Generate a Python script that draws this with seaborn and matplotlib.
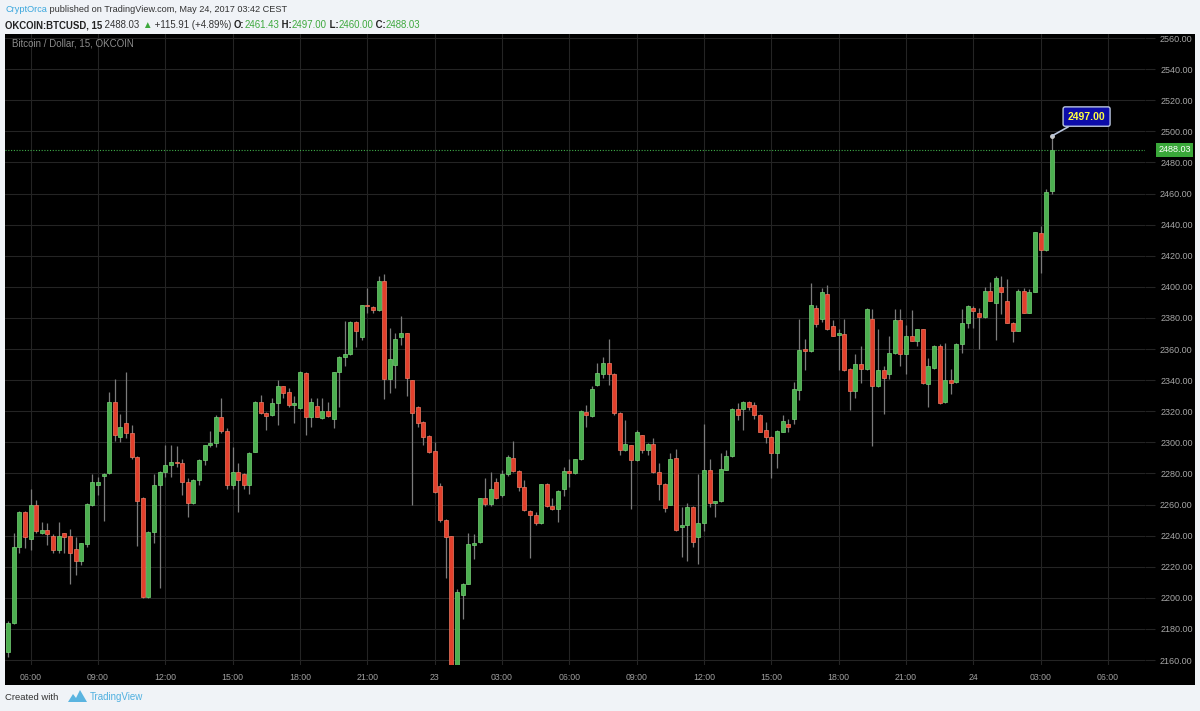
import matplotlib
matplotlib.use("Agg")
import matplotlib.pyplot as plt
import matplotlib.transforms as mtransforms
from matplotlib.patches import Rectangle, Polygon
import seaborn as sns
import numpy as np
import pandas as pd

# 15 minute candles, OKCOIN BTC/USD, 22 May 05:00 -> 24 May 03:30 (CEST)
start = "2017-05-22 05:00"

opens = [2165, 2184, 2233, 2255, 2238, 2260, 2242, 2243.5, 2240, 2231,
         2241.5, 2240, 2231.5, 2224, 2234.5, 2259.5, 2272.5, 2278.5, 2280, 2326,
         2303.5, 2312.5, 2306, 2290.5, 2264, 2200.5, 2242.5, 2272.5, 2281, 2285.5,
         2287.5, 2287, 2274.5, 2261, 2275.5, 2288.5, 2298.3, 2299.4, 2316.6, 2307.5,
         2272.5, 2281, 2279.6, 2272.5, 2294, 2326.2, 2318.7, 2317.6, 2325, 2336,
         2332.5, 2324, 2322, 2344.5, 2316.6, 2323.4, 2315.5, 2320.4, 2314.8, 2345,
         2354.8, 2356.8, 2377.2, 2367.7, 2388.4, 2387, 2385.4, 2403.6, 2340.6, 2350,
         2367.7, 2370, 2339.8, 2323, 2313.3, 2304, 2294.6, 2271.8, 2250.3, 2239.6,
         2153, 2202, 2209.2, 2234.2, 2236, 2264, 2260.2, 2274.6, 2266, 2279.6,
         2289.7, 2281.7, 2271, 2255.9, 2253.1, 2248.2, 2273.1, 2258.9, 2257.4, 2270.3,
         2281.7, 2280, 2289, 2319.8, 2317, 2336.8, 2343.9, 2351, 2343.9, 2318.9,
         2294.8, 2298, 2288.8, 2304.5, 2294.8, 2299.1, 2280.9, 2273.3, 2260, 2290.1,
         2245.4, 2247.1, 2258.3, 2238.9, 2248.2, 2282.4, 2261, 2262, 2282.4, 2291,
         2321.7, 2321.7, 2326, 2323.9, 2317.6, 2308, 2303.7, 2292.9, 2306.9, 2311.8,
         2314.8, 2333.8, 2360, 2358.5, 2386.5, 2379, 2395.7, 2374.6, 2369.2, 2369.9,
         2347.1, 2333.3, 2350.3, 2347.1, 2379.4, 2336.3, 2346.7, 2344.1, 2357.4, 2378.9,
         2357, 2368.4, 2365.4, 2372.7, 2337.8, 2347.5, 2362, 2326, 2340, 2338.9,
         2363.2, 2377, 2386.2, 2383.4, 2380.4, 2397.6, 2389.5, 2400.2, 2391.2, 2377,
         2371.8, 2397.6, 2383.4, 2397, 2434.6, 2423.4, 2461.43]

highs = [2185, 2242, 2256, 2256, 2270, 2263, 2249, 2248, 2241, 2249,
         2242, 2244, 2239, 2235.5, 2261, 2279.5, 2278, 2280, 2332.5, 2340.5,
         2318, 2345.5, 2311, 2291.5, 2265, 2243, 2279.5, 2281.5, 2298, 2298,
         2297.5, 2289, 2277, 2276.5, 2289.5, 2298.5, 2307.5, 2317.6, 2328.4, 2309,
         2297, 2287, 2280.2, 2293.5, 2326.5, 2330.5, 2319.2, 2328.4, 2340, 2336.5,
         2335, 2329.5, 2346, 2345, 2328.4, 2328.4, 2328.4, 2326, 2345.5, 2355.3,
         2377.8, 2378.3, 2378, 2388.6, 2399.3, 2387.5, 2406.9, 2408, 2373.5, 2370,
         2381.5, 2370.5, 2340.3, 2323.5, 2313.8, 2304.5, 2300.4, 2274, 2250.8, 2240,
         2205.6, 2209.5, 2241.5, 2241, 2264.5, 2276.8, 2281, 2276.8, 2282, 2291.8,
         2301, 2282.2, 2275.7, 2256.4, 2255.3, 2273.5, 2273.6, 2264.5, 2269.3, 2284.3,
         2289, 2289.5, 2320.8, 2324, 2336, 2351, 2354.8, 2366.5, 2344.4, 2319.4,
         2314.2, 2298.5, 2307.7, 2305, 2299.6, 2303, 2286.7, 2273.8, 2293.1, 2295.9,
         2258.3, 2260.9, 2258.8, 2279.4, 2312, 2289.5, 2262.5, 2293.1, 2295.3, 2322.2,
         2325, 2326.5, 2326.5, 2326, 2318.1, 2313.3, 2304.2, 2307.8, 2317.6, 2314.8,
         2338.5, 2379.4, 2366.5, 2402.6, 2388, 2399.4, 2401.5, 2378.5, 2372.9, 2379.4,
         2347.6, 2357, 2361.7, 2386.3, 2385.8, 2372.9, 2348.8, 2368.6, 2385.8, 2385.8,
         2375.7, 2385.2, 2373.2, 2373.2, 2354, 2362.5, 2363.2, 2363.7, 2346.9, 2363.7,
         2385.6, 2388.2, 2387.7, 2386.2, 2400.2, 2402.8, 2407.1, 2406.7, 2405, 2377.5,
         2398.5, 2399.1, 2398.5, 2435.5, 2439.4, 2463, 2497]

lows = [2162, 2183, 2229, 2232, 2231, 2242, 2241, 2234, 2229, 2229,
        2229, 2209, 2215, 2221, 2232.5, 2259, 2266, 2249.5, 2279.5, 2301,
        2300, 2302.5, 2289, 2233.5, 2200, 2200, 2235, 2206, 2278, 2278,
        2284, 2266, 2252, 2260.5, 2272.5, 2285.5, 2297, 2297, 2306.2, 2270.3,
        2270.3, 2255.3, 2270.3, 2267, 2293.5, 2318.2, 2308, 2317, 2311.2, 2328.4,
        2323, 2312.7, 2321.5, 2304.7, 2310, 2316, 2315, 2316.2, 2309, 2323,
        2348.8, 2356.3, 2361.3, 2366, 2383, 2383, 2384.3, 2327.7, 2331.6, 2334.8,
        2362.8, 2330, 2259.6, 2310, 2298, 2293, 2267.5, 2248.8, 2213, 2152,
        2152, 2186.2, 2208.8, 2225, 2235.5, 2259, 2259, 2263.5, 2265, 2278.3,
        2281.2, 2268.8, 2255.8, 2225.8, 2246.7, 2247.7, 2258.4, 2256.8, 2248.8, 2265.4,
        2271.4, 2279.5, 2288.5, 2309.7, 2316.1, 2336.3, 2341.3, 2337, 2317.4, 2291.6,
        2294.4, 2257.2, 2288.3, 2293.1, 2291.6, 2280.4, 2262.6, 2255, 2259.5, 2243.2,
        2226, 2223.4, 2232.9, 2221.7, 2243.2, 2258.3, 2251.8, 2261.5, 2282, 2290.5,
        2314.2, 2308.2, 2320.6, 2315.3, 2306.4, 2299.8, 2276.8, 2283.2, 2306.4, 2306.9,
        2311.8, 2327.3, 2346.2, 2358, 2374.2, 2377.2, 2372, 2368.2, 2346.2, 2345.6,
        2320.9, 2328.4, 2338, 2346.6, 2297.6, 2335.5, 2318.3, 2340.6, 2356.9, 2348.8,
        2344.1, 2364.9, 2362, 2337.8, 2322.4, 2347, 2324.5, 2325.5, 2331.4, 2338.4,
        2357.6, 2373.3, 2373.3, 2359.8, 2379.9, 2390.7, 2366, 2382.6, 2376.5, 2364.7,
        2371.3, 2382.9, 2382.9, 2396.5, 2408.8, 2422.9, 2460]

closes = [2184, 2233, 2255, 2239, 2260, 2243, 2243.5, 2241, 2231, 2240,
          2239, 2229, 2224, 2235, 2260.5, 2274.5, 2274.5, 2279.5, 2326, 2304.5,
          2310, 2306, 2290.5, 2262.5, 2200.5, 2242.5, 2272.5, 2281, 2285.5, 2287.5,
          2286.5, 2274.5, 2261, 2276, 2288.5, 2298.3, 2299.8, 2316.6, 2307.5, 2272.5,
          2281, 2276, 2272.5, 2293, 2326.2, 2318.7, 2317, 2325, 2336, 2332,
          2324, 2325.6, 2345.4, 2316.3, 2326.2, 2316.6, 2320.4, 2317, 2345, 2354.8,
          2356.8, 2377.2, 2371.4, 2388, 2387.5, 2385.4, 2403.6, 2340.6, 2353.5, 2366.5,
          2370, 2341.3, 2319, 2312.7, 2303.7, 2294, 2268, 2250.3, 2239, 2153,
          2204, 2209.2, 2234.6, 2235.5, 2263.9, 2260.2, 2269.7, 2264, 2279.6, 2290.8,
          2281.7, 2271, 2256.3, 2253.1, 2248.2, 2273.1, 2258.9, 2257.4, 2268.8, 2281.7,
          2280, 2289, 2320.4, 2317.6, 2334.2, 2344.5, 2351, 2344, 2318.9, 2294.8,
          2298.7, 2288.8, 2306.7, 2294.8, 2299.1, 2280.9, 2273.3, 2257.8, 2289.5, 2243.7,
          2247.1, 2258.3, 2235.7, 2248.2, 2282.4, 2260.9, 2262, 2283, 2291, 2321.7,
          2317.4, 2326, 2322.4, 2317.4, 2306.9, 2303.2, 2292.9, 2307.5, 2313.8, 2309.7,
          2334.2, 2359.6, 2358.5, 2388, 2376.3, 2396.6, 2372.9, 2368.6, 2370.3, 2346.7,
          2333.3, 2350.3, 2347.1, 2385.8, 2336.3, 2346.7, 2341.3, 2357.4, 2378.9, 2357,
          2368.6, 2365.4, 2372.7, 2338.3, 2349, 2362, 2325.4, 2340, 2338.3, 2363.2,
          2377, 2387.7, 2384.7, 2380.4, 2397.6, 2391.2, 2405.6, 2397, 2377, 2371.8,
          2397.6, 2383.4, 2397, 2435, 2423.4, 2460.9, 2488.03]

last_price = 2488.03
high_label = "2497.00"
y_ticks = list(range(2160, 2561, 20))

W, H = 1200, 711
GREEN = "#4caf50"
GREEN_EDGE = "#76d376"
RED = "#e2402c"
RED_EDGE = "#f27a62"
WICK = "#7b7b7b"
GRID = "#242424"
HEAD_GREEN = "#3da83d"

sns.set_style("dark")
plt.rcParams["font.family"] = ["Liberation Sans", "DejaVu Sans"]

df = pd.DataFrame({"open": opens, "high": highs, "low": lows, "close": closes})
df["time"] = pd.date_range(start, periods=len(df), freq="15min")
df["idx"] = np.arange(len(df))
up = df["close"] >= df["open"]
body_lo = np.minimum(df["open"], df["close"])
body_h = np.maximum(np.abs(df["close"] - df["open"]), 0.9)

fig = plt.figure(figsize=(W / 100, H / 100), dpi=100)
fig.patch.set_facecolor("#f0f3f7")


def px(x, y):
    return x / W, 1 - y / H


# black chart panel incl. price and time scales (behind the axes)
fig.patches.append(Rectangle(px(5, 685), 1190 / W, (685 - 34) / H,
                             transform=fig.transFigure, facecolor="black",
                             edgecolor="none", zorder=-5))

ax = fig.add_axes([5 / W, 1 - 665 / H, 1140 / W, (665 - 34) / H])
ax.set_zorder(1)
ax.set_facecolor("black")
ax.set_xlim(-0.57, 202.6)
ax.set_ylim(2156.8, 2562.6)
sns.despine(ax=ax, left=True, bottom=True, top=True, right=True)

# candles
ax.vlines(df["idx"], df["low"], df["high"], color=WICK, lw=0.9, zorder=2)
ax.bar(df["idx"], body_h, bottom=body_lo, width=0.72,
       color=np.where(up, GREEN, RED), edgecolor=np.where(up, GREEN_EDGE, RED_EDGE),
       linewidth=0.5, zorder=3)

# grid and scales
tick_times = pd.date_range("2017-05-22 06:00", "2017-05-24 06:00", freq="3h")
t0 = df["time"].iloc[0]
tick_pos = [(t - t0) / pd.Timedelta("15min") for t in tick_times]
tick_lab = [str(t.day) if t.hour == 0 else t.strftime("%H:%M") for t in tick_times]
ax.set_xticks(tick_pos)
ax.set_xticklabels(tick_lab)
ax.set_yticks(y_ticks)
ax.set_yticklabels([f"{v:.2f}" for v in y_ticks])
ax.yaxis.tick_right()
ax.grid(True, color=GRID, lw=0.8, zorder=0)
ax.set_axisbelow(True)
# right-aligned price labels ending just inside the panel edge
ax.tick_params(axis="y", length=7, color=GRID, pad=27.3, labelsize=6.5,
               labelcolor="#a6a6a6")
for lab in ax.get_yticklabels():
    lab.set_horizontalalignment("right")
ax.tick_params(axis="x", length=0, pad=6, labelsize=6.3, labelcolor="#a0a0a0")

# last price line and label
ax.axhline(last_price, color="#3fae49", ls=(0, (1, 1.5)), lw=0.8, zorder=4)
trans = mtransforms.blended_transform_factory(ax.transAxes, ax.transData)
ax.text(1.0263, last_price, f"{last_price:.2f}", transform=trans, ha="center",
        va="center", fontsize=6.5, color="white", clip_on=False, zorder=6,
        bbox=dict(boxstyle="square,pad=0.25", fc="#3aa83a", ec="none"))

# high annotation
last = df.iloc[-1]
ax.plot(last["idx"], last["high"], "o", ms=2.5, color="#c8c8c8", zorder=5)
ax.annotate(high_label, xy=(last["idx"], last["high"]), xytext=(25, 14),
            textcoords="offset points", ha="center", va="center", fontsize=7.5,
            fontweight="bold", color="#ffff40", zorder=6,
            bbox=dict(boxstyle="round,pad=0.45,rounding_size=0.2", fc="#0c0ca8",
                      ec="#b8c4dc", lw=1),
            arrowprops=dict(arrowstyle="-", color="#b8c4dc", lw=1.2,
                            shrinkA=0, shrinkB=0))

ax.text(7 / 1140, 1 - 10 / 631, "Bitcoin / Dollar, 15, OKCOIN", transform=ax.transAxes,
        ha="left", va="center", fontsize=7, color="#8c8c8c")

# header text, drawn piece by piece
renderer = fig.canvas.get_renderer()


def write_line(x, y, pieces, size):
    fx, fy = px(x, y)
    for s, color, weight in pieces:
        t = fig.text(fx, fy, s, color=color, fontsize=size, fontweight=weight,
                     ha="left", va="center",
                     family=["Liberation Sans", "DejaVu Sans"])
        bb = t.get_window_extent(renderer=renderer)
        fx += bb.width / W


write_line(5, 9, [("CryptOrca", "#3ba7dd", "normal"),
                  (" published on TradingView.com, May 24, 2017 03:42 CEST", "#333333", "normal")],
           6.6)
write_line(5, 25, [("OKCOIN:BTCUSD, 15", "#222222", "bold"),
                   (" 2488.03 ", "#333333", "normal"),
                   ("\u25b2", HEAD_GREEN, "normal"),
                   (" +115.91 (+4.89%) ", "#333333", "normal"),
                   ("O:", "#222222", "bold"), ("2461.43", HEAD_GREEN, "normal"),
                   (" H:", "#222222", "bold"), ("2497.00", HEAD_GREEN, "normal"),
                   (" L:", "#222222", "bold"), ("2460.00", HEAD_GREEN, "normal"),
                   (" C:", "#222222", "bold"), ("2488.03", HEAD_GREEN, "normal")],
           6.9)

# footer
fig.text(*px(5, 697), "Created with", fontsize=6.8, color="#333333", ha="left", va="center")
logo = [(68, 702), (73, 694), (76, 698), (80, 690), (87, 702)]
fig.patches.append(Polygon([px(a, b) for a, b in logo], closed=True,
                           transform=fig.transFigure, facecolor="#5ab4e0",
                           edgecolor="none"))
fig.text(*px(90, 697), "TradingView", fontsize=7, color="#4fb0e0", ha="left", va="center")

fig.savefig("out.png", dpi=100, facecolor=fig.get_facecolor())
